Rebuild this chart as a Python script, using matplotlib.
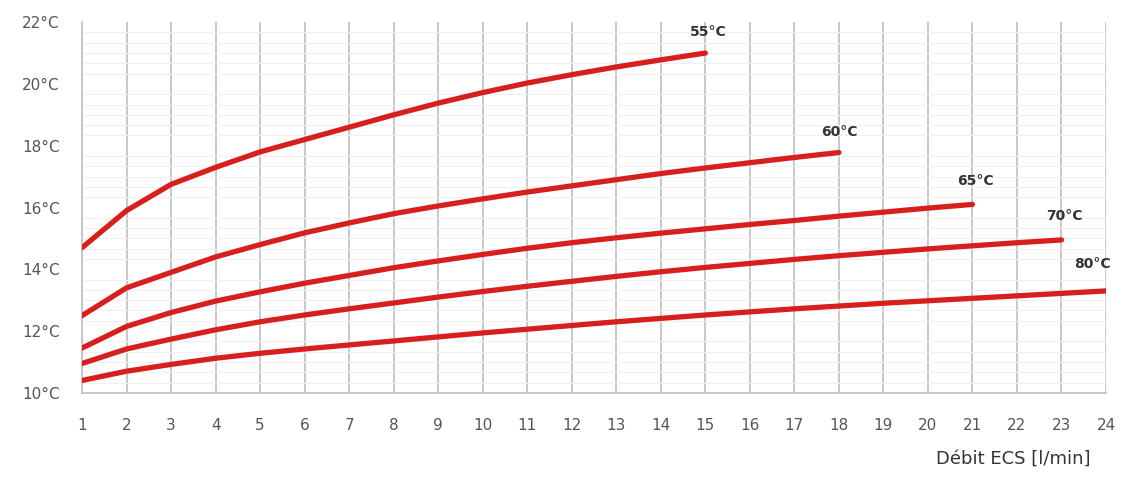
import numpy as np
import matplotlib.pyplot as plt

# Débit ECS [l/min] and temperature curves per primary temperature
debit = list(range(1, 25))

temp_55 = [14.7, 15.9, 16.75, 17.3, 17.8, 18.2, 18.6, 19.0, 19.38, 19.72, 20.03, 20.3, 20.55, 20.78, 21.0]
temp_60 = [12.5, 13.4, 13.9, 14.4, 14.8, 15.18, 15.5, 15.8, 16.05, 16.28, 16.5, 16.7, 16.9,
           17.1, 17.28, 17.45, 17.62, 17.78]
temp_65 = [11.45, 12.15, 12.6, 12.97, 13.27, 13.55, 13.8, 14.05, 14.27, 14.48, 14.68, 14.86, 15.02,
           15.17, 15.31, 15.45, 15.58, 15.72, 15.85, 15.98, 16.1]
temp_70 = [10.95, 11.42, 11.74, 12.04, 12.3, 12.52, 12.72, 12.91, 13.1, 13.28, 13.45, 13.61, 13.77,
           13.92, 14.06, 14.19, 14.32, 14.44, 14.55, 14.66, 14.76, 14.86, 14.95]
temp_80 = [10.4, 10.7, 10.92, 11.12, 11.28, 11.42, 11.55, 11.68, 11.81, 11.94, 12.06, 12.18, 12.3,
           12.41, 12.52, 12.62, 12.72, 12.81, 12.9, 12.98, 13.06, 13.14, 13.22, 13.3]

curves = [('55°C', temp_55, (2, 10)), ('60°C', temp_60, (0, 10)), ('65°C', temp_65, (2, 12)),
          ('70°C', temp_70, (2, 12)), ('80°C', temp_80, (-10, 14))]

y_ticks = [10, 12, 14, 16, 18, 20, 22]

fig = plt.figure(figsize=(11.24, 4.82), dpi=100)
ax = fig.add_axes([0.073, 0.185, 0.911, 0.769])

for label, temps, offset in curves:
    x = debit[:len(temps)]
    ax.plot(x, temps, color='#d7201e', lw=3.8, solid_capstyle='round',
            solid_joinstyle='round', zorder=3)
    ax.annotate(label, (x[-1], temps[-1]), xytext=offset, textcoords='offset points',
                ha='center', va='bottom', fontsize=10, fontweight='bold', color='#333333')

ax.set_xlim(1, 24)
ax.set_ylim(10, 22)
ax.set_xticks(debit)
ax.set_yticks(y_ticks)
ax.set_yticklabels([f'{t}°C' for t in y_ticks])
ax.set_yticks(np.arange(10, 22, 1 / 3), minor=True)

ax.grid(axis='x', color='#c4c4c4', lw=1.3)
ax.grid(axis='y', which='minor', color='#f0f0f0', lw=0.8)
ax.tick_params(axis='both', which='both', length=0, labelsize=11, colors='#555555')
ax.tick_params(axis='x', pad=18)
ax.tick_params(axis='y', pad=16)

for side in ['top', 'right']:
    ax.spines[side].set_visible(False)
ax.spines['left'].set_color('#c4c4c4')
ax.spines['bottom'].set_color('#c4c4c4')
ax.spines['left'].set_linewidth(1.3)
ax.spines['bottom'].set_linewidth(1.3)

fig.text(0.97, 0.03, 'Débit ECS [l/min]', ha='right', va='bottom', fontsize=13, color='#333333')

fig.savefig('out.png', dpi=100)
